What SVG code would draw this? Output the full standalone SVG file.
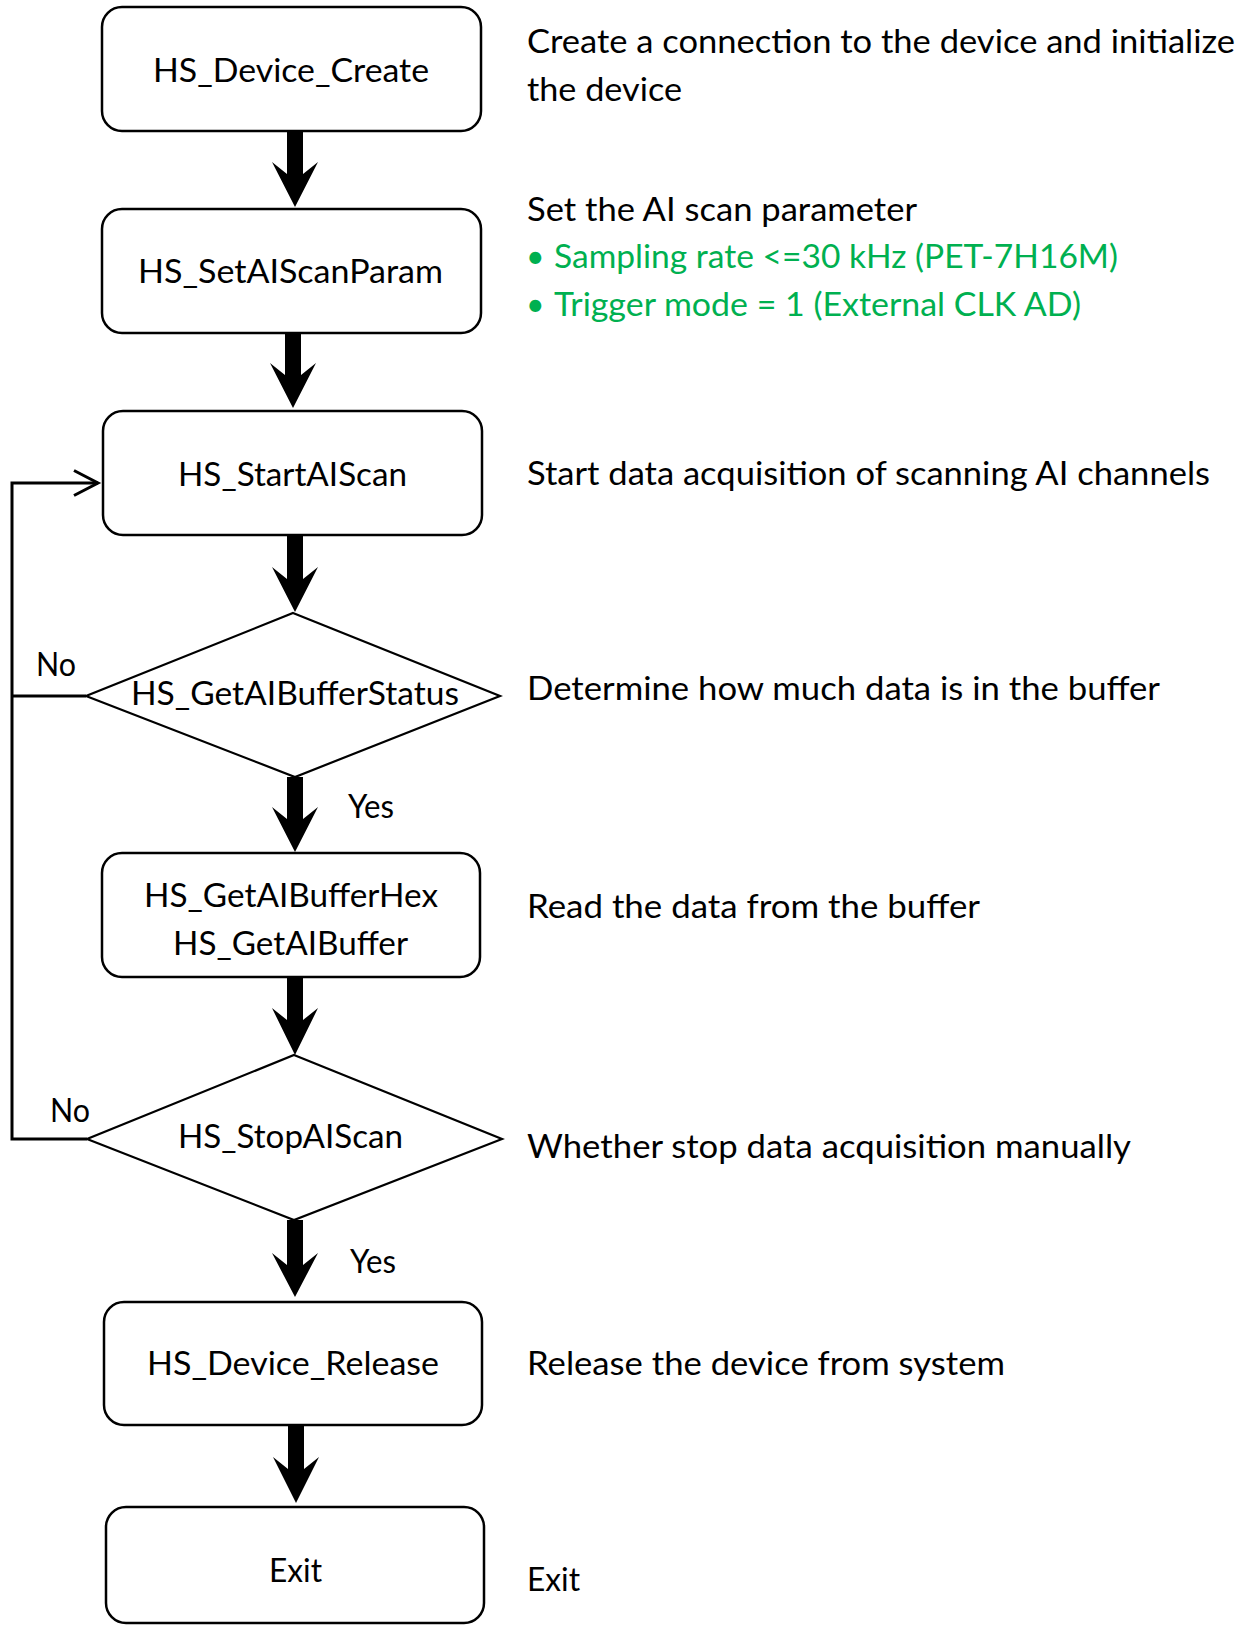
<svg xmlns="http://www.w3.org/2000/svg" width="1247" height="1625" viewBox="0 0 1247 1625">
<defs>
<style>
.box{fill:#fff;stroke:#000;stroke-width:2.5}
.dia{fill:#fff;stroke:#000;stroke-width:2.2}
.t{font-family:Lato,"Liberation Sans",sans-serif;font-size:32px;fill:#000}
.g{fill:#00B050}
.thick{fill:#000;stroke:none}
.thin{fill:none;stroke:#000;stroke-width:3}
</style>
<marker id="open" markerWidth="12" markerHeight="12" refX="10" refY="6" orient="auto" markerUnits="userSpaceOnUse" viewBox="0 0 12 12" overflow="visible">
<path d="M-14,-6.5 L10,6 L-14,18.5" fill="none" stroke="#000" stroke-width="3"/>
</marker>
</defs>
<rect width="1247" height="1625" fill="#fff"/>

<g id="connectors">
<path class="thick" d="M287,131 H303 V174 L318,162 L295,207 L272,162 L287,174 Z"/>
<path class="thick" d="M285,333 H301 V375 L316,363 L293,408 L270,363 L285,375 Z"/>
<path class="thick" d="M287,535 H303 V579 L318,567 L295,612 L272,567 L287,579 Z"/>
<path class="thick" d="M287,777 H303 V819 L318,807 L295,852 L272,807 L287,819 Z"/>
<path class="thick" d="M287,977 H303 V1020 L318,1008 L295,1055 L272,1008 L287,1020 Z"/>
<path class="thick" d="M287,1220 H303 V1265 L318,1253 L295,1297 L272,1253 L287,1265 Z"/>
<path class="thick" d="M288,1425 H304 V1469 L319,1457 L296,1503 L273,1457 L288,1469 Z"/>
<path class="thin" d="M87,1139 H12 V483 H98" marker-end="url(#open)"/>
<path class="thin" d="M86,696 H12"/>
<text class="t" x="36" y="676" textLength="40" lengthAdjust="spacingAndGlyphs">No</text>
<text class="t" x="50" y="1122" textLength="40" lengthAdjust="spacingAndGlyphs">No</text>
<text class="t" x="348" y="818" textLength="46" lengthAdjust="spacingAndGlyphs">Yes</text>
<text class="t" x="350" y="1273" textLength="46" lengthAdjust="spacingAndGlyphs">Yes</text>
</g>

<g id="n1">
<rect class="box" x="102" y="7" width="379" height="124" rx="20"/>
<text class="t" x="153" y="82" textLength="276" lengthAdjust="spacingAndGlyphs">HS_Device_Create</text>
</g>
<g id="n2">
<rect class="box" x="102" y="209" width="379" height="124" rx="20"/>
<text class="t" x="138" y="283" textLength="305" lengthAdjust="spacingAndGlyphs">HS_SetAIScanParam</text>
</g>
<g id="n3">
<rect class="box" x="103" y="411" width="379" height="124" rx="20"/>
<text class="t" x="178" y="486" textLength="229" lengthAdjust="spacingAndGlyphs">HS_StartAIScan</text>
</g>
<g id="n4">
<polygon class="dia" points="293,613 500,696 295,777 86,696"/>
<text class="t" x="131" y="705" textLength="328" lengthAdjust="spacingAndGlyphs">HS_GetAIBufferStatus</text>
</g>
<g id="n5">
<rect class="box" x="102" y="853" width="378" height="124" rx="20"/>
<text class="t" x="144" y="907" textLength="294" lengthAdjust="spacingAndGlyphs">HS_GetAIBufferHex</text>
<text class="t" x="173" y="955" textLength="235" lengthAdjust="spacingAndGlyphs">HS_GetAIBuffer</text>
</g>
<g id="n6">
<polygon class="dia" points="294,1055 502,1139 294,1220 87,1139"/>
<text class="t" x="178" y="1148" textLength="225" lengthAdjust="spacingAndGlyphs">HS_StopAIScan</text>
</g>
<g id="n7">
<rect class="box" x="104" y="1302" width="378" height="123" rx="20"/>
<text class="t" x="147" y="1375" textLength="292" lengthAdjust="spacingAndGlyphs">HS_Device_Release</text>
</g>
<g id="n8">
<rect class="box" x="106" y="1507" width="378" height="116" rx="20"/>
<text class="t" x="269" y="1582" textLength="53" lengthAdjust="spacingAndGlyphs">Exit</text>
</g>

<g id="notes">
<text class="t" x="527" y="53" textLength="708" lengthAdjust="spacingAndGlyphs">Create a connection to the device and initialize</text>
<text class="t" x="527" y="101" textLength="155" lengthAdjust="spacingAndGlyphs">the device</text>
<text class="t" x="527" y="221" textLength="390" lengthAdjust="spacingAndGlyphs">Set the AI scan parameter</text>
<text class="t g" x="526" y="268">•</text>
<text class="t g" x="554" y="268" textLength="564" lengthAdjust="spacingAndGlyphs">Sampling rate &lt;=30 kHz (PET-7H16M)</text>
<text class="t g" x="526" y="316">•</text>
<text class="t g" x="554" y="316" textLength="527" lengthAdjust="spacingAndGlyphs">Trigger mode = 1 (External CLK AD)</text>
<text class="t" x="527" y="485" textLength="683" lengthAdjust="spacingAndGlyphs">Start data acquisition of scanning AI channels</text>
<text class="t" x="527" y="700" textLength="633" lengthAdjust="spacingAndGlyphs">Determine how much data is in the buffer</text>
<text class="t" x="527" y="918" textLength="453" lengthAdjust="spacingAndGlyphs">Read the data from the buffer</text>
<text class="t" x="527" y="1158" textLength="604" lengthAdjust="spacingAndGlyphs">Whether stop data acquisition manually</text>
<text class="t" x="527" y="1375" textLength="478" lengthAdjust="spacingAndGlyphs">Release the device from system</text>
<text class="t" x="527" y="1591" textLength="53" lengthAdjust="spacingAndGlyphs">Exit</text>
</g>
</svg>
